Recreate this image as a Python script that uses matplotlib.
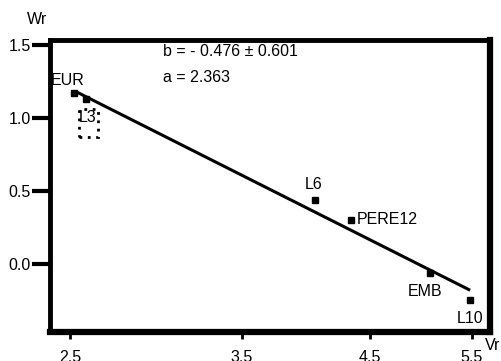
import matplotlib
matplotlib.use("Agg")
import matplotlib.pyplot as plt
from matplotlib.patches import Rectangle
from matplotlib.ticker import FixedLocator, NullLocator, FixedFormatter

plt.rcParams['font.family'] = ['Liberation Sans Narrow', 'Liberation Sans', 'DejaVu Sans']
FS = 11.5

# data
labels = ["EUR", "L3", "L6", "PERE12", "EMB", "L10"]
vr = [2.52, 2.58, 4.04, 4.34, 5.07, 5.48]
wr = [1.17, 1.13, 0.44, 0.30, -0.06, -0.25]
# label offsets (pixels) and alignment
offsets = [(-6, 13, "center"), (2, -19, "center"), (-1, 15, "center"),
           (6, 1, "left"), (-5, -19, "center"), (0, -18, "center")]

fit_x = [2.53, 5.48]
fit_y = [1.18, -0.18]

xticks = [2.5, 3.5, 4.5, 5.5]
yticks = [0.0, 0.5, 1.0, 1.5]

fig = plt.figure(figsize=(5.02, 3.61), dpi=100)
ax = fig.add_axes([50/502, 1 - 332/361, 440/502, 292/361])

ax.plot(fit_x, fit_y, color="black", lw=2.2, solid_capstyle="butt")
ax.plot(vr, wr, "s", color="black", ms=4.8)

for lab, x, y, (dx, dy, ha) in zip(labels, vr, wr, offsets):
    ax.annotate(lab, (x, y), xytext=(dx, dy), textcoords="offset pixels",
                ha=ha, va="center", fontsize=FS)

# dotted box around L3
ax.add_patch(Rectangle((0.066, 0.668), 0.043, 0.096, transform=ax.transAxes,
                       fill=False, ls=(0, (1, 2)), lw=2, color="black"))

ax.text(0.257, 0.959, "b = - 0.476 \u00b1 0.601", transform=ax.transAxes,
        fontsize=FS, va="center", ha="left")
ax.text(0.257, 0.870, "a = 2.363", transform=ax.transAxes,
        fontsize=FS, va="center", ha="left")

ax.set_xscale("log")
ax.set_xlim(2.404, 5.698)
ax.set_ylim(-0.466, 1.534)
ax.xaxis.set_major_locator(FixedLocator(xticks))
ax.xaxis.set_major_formatter(FixedFormatter([str(t) for t in xticks]))
ax.xaxis.set_minor_locator(NullLocator())
ax.set_yticks(yticks)
ax.set_yticklabels([f"{t:.1f}" for t in yticks])

ax.tick_params(axis="x", length=5, width=2, pad=8, labelsize=FS)
ax.tick_params(axis="y", length=13, width=3, pad=1, labelsize=FS)
for s in ["left", "top"]:
    ax.spines[s].set_linewidth(3.5)
for s in ["right", "bottom"]:
    ax.spines[s].set_linewidth(4.5)

fig.text(37/502, 1 - 20/361, "Wr", fontsize=FS, ha="center", va="center")
fig.text(493/502, 1 - 345/361, "Vr", fontsize=FS, ha="center", va="center")

fig.savefig("out.png", dpi=100)
